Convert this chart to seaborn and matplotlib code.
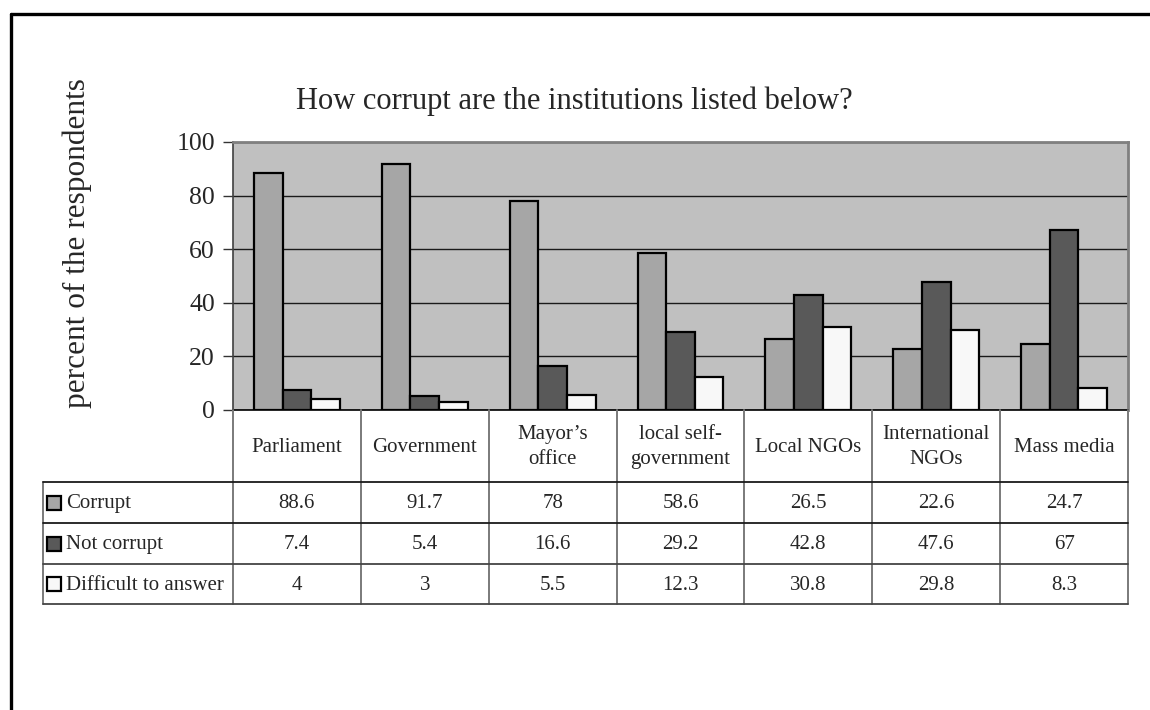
import matplotlib
matplotlib.use("Agg")
import matplotlib.pyplot as plt
from matplotlib.lines import Line2D
from matplotlib.patches import Rectangle
import pandas as pd
import seaborn as sns

# ---- data ---------------------------------------------------------------
institutions = ["Parliament", "Government", "Mayor\u2019s\noffice",
                "local self-\ngovernment", "Local NGOs",
                "International\nNGOs", "Mass media"]
corrupt = [88.6, 91.7, 78, 58.6, 26.5, 22.6, 24.7]
not_corrupt = [7.4, 5.4, 16.6, 29.2, 42.8, 47.6, 67]
difficult = [4, 3, 5.5, 12.3, 30.8, 29.8, 8.3]
series_names = ["Corrupt", "Not corrupt", "Difficult to answer"]
series_values = [corrupt, not_corrupt, difficult]
series_colors = ["#A6A6A6", "#595959", "#F8F8F8"]
y_ticks = [0, 20, 40, 60, 80, 100]
title_text = "How corrupt are the institutions listed below?"
y_label = "percent of the respondents"

# ---- style --------------------------------------------------------------
sns.set_theme(style="white")
plt.rcParams["font.family"] = ["Liberation Serif", "DejaVu Serif"]

W, H = 1150, 710
fig = plt.figure(figsize=(W / 100, H / 100), dpi=100)
fig.patch.set_facecolor("white")

# pixel-space layout of the plotting area
px_left, px_right, px_top, px_bottom = 233, 1128, 142, 410
ax = fig.add_axes([px_left / W, 1 - px_bottom / H,
                   (px_right - px_left) / W, (px_bottom - px_top) / H])

# overlay in pixel coordinates for the data table and frame
ov = fig.add_axes([0, 0, 1, 1], zorder=5)
ov.set_xlim(0, W)
ov.set_ylim(H, 0)
ov.axis("off")
ov.patch.set_alpha(0)

# ---- bars ---------------------------------------------------------------
df = pd.DataFrame({
    "institution": [inst for _ in series_names for inst in institutions],
    "series": [s for s in series_names for _ in institutions],
    "value": [v for vals in series_values for v in vals],
})
sns.barplot(data=df, x="institution", y="value", hue="series",
            order=institutions, hue_order=series_names,
            palette=series_colors, saturation=1, width=0.672,
            edgecolor="black", linewidth=1.6, legend=False, ax=ax)

ax.set_facecolor("#C0C0C0")
ax.set_xlim(-0.5, len(institutions) - 0.5)
ax.set_ylim(0, 100)
ax.set_yticks(y_ticks)
ax.set_xticks([])
ax.set_xlabel("")
ax.set_ylabel("")
ax.set_axisbelow(True)
ax.yaxis.grid(True, color="#1a1a1a", linewidth=1.0)
ax.tick_params(axis="y", direction="out", length=7, width=1.0,
               color="#333333", labelsize=18.5, pad=6, left=True)
for side in ("top", "right"):
    ax.spines[side].set_color("#808080")
    ax.spines[side].set_linewidth(2.0)
ax.spines["left"].set_color("#404040")
ax.spines["left"].set_linewidth(1.2)
ax.spines["bottom"].set_color("black")
ax.spines["bottom"].set_linewidth(1.2)

# ---- title and axis label ------------------------------------------------
ov.text(574, 101, title_text, ha="center", va="center", fontsize=22)
ov.text(77, 243, y_label, ha="center", va="center", rotation=90, fontsize=22.5)

# ---- data table ------------------------------------------------------------
n = len(institutions)
col_w = (px_right - px_left) / n
row_edges = [px_bottom, 482, 523, 564, 604]
table_left = 43
hcol = "#1a1a1a"
vcol = "#7a7a7a"

# column boundaries (also the category ticks below the axis)
for i in range(n + 1):
    x = px_left + i * col_w
    ov.add_line(Line2D([x, x], [px_bottom, row_edges[-1]], color=vcol, lw=1.4))
ov.add_line(Line2D([table_left, table_left], [row_edges[1], row_edges[-1]],
                   color=vcol, lw=1.4))
for k, y in enumerate(row_edges[1:]):
    ov.add_line(Line2D([table_left, px_right], [y, y],
                       color=hcol if k < 2 else "#444444", lw=1.3))

# header row: category names
hdr_mid = (row_edges[0] + row_edges[1]) / 2
for i, name in enumerate(institutions):
    ov.text(px_left + (i + 0.5) * col_w, hdr_mid + 1, name, ha="center",
            va="center", fontsize=15, linespacing=1.4)

# value rows with legend keys
for r, (sname, vals, col) in enumerate(zip(series_names, series_values,
                                           series_colors)):
    y0, y1 = row_edges[r + 1], row_edges[r + 2]
    ym = (y0 + y1) / 2
    ov.add_patch(Rectangle((47, ym - 7), 14, 14, facecolor=col,
                           edgecolor="black", lw=1.6))
    ov.text(66, ym + 1, sname, ha="left", va="center", fontsize=15)
    for i, v in enumerate(vals):
        ov.text(px_left + (i + 0.5) * col_w, ym + 1, f"{v:g}", ha="center",
                va="center", fontsize=15)

# outer frame
ov.add_line(Line2D([11, W], [14, 14], color="black", lw=2.4))
ov.add_line(Line2D([11, 11], [14, H], color="black", lw=2.4))

fig.savefig("out.png", dpi=100, facecolor="white")
